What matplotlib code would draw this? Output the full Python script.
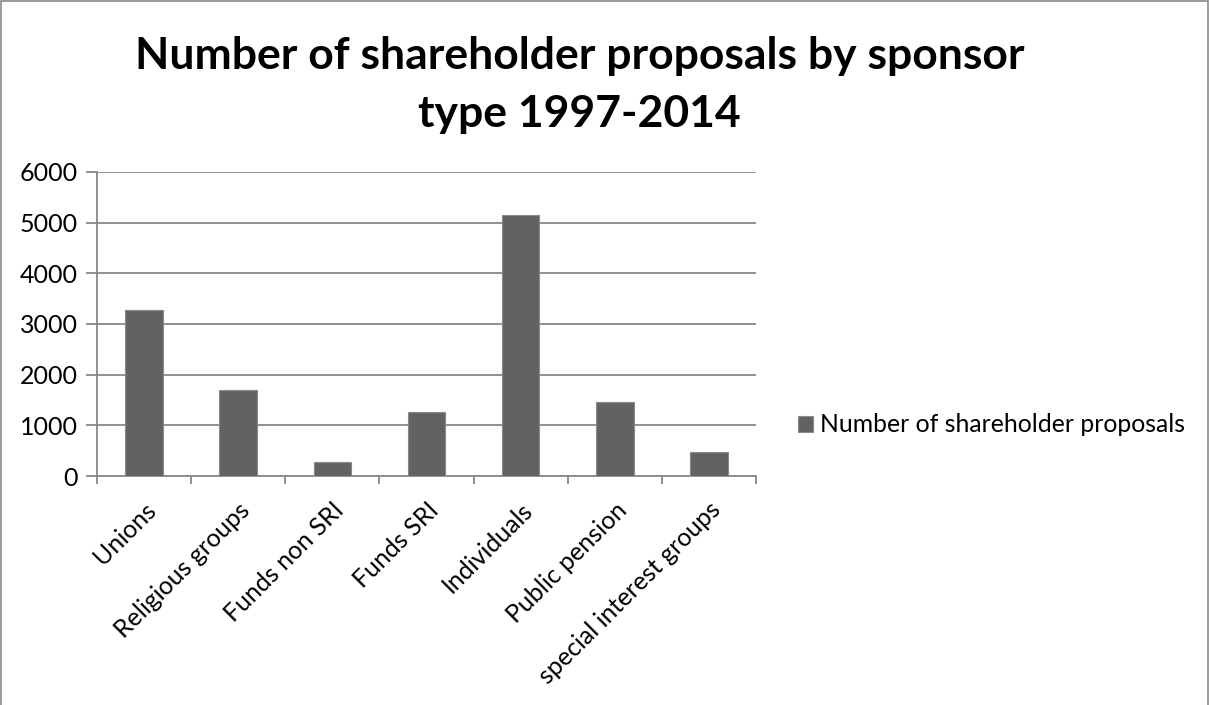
import matplotlib
matplotlib.use("Agg")
import matplotlib.pyplot as plt
from matplotlib.patches import Rectangle
import numpy as np

categories = ["Unions", "Religious groups", "Funds non SRI", "Funds SRI",
              "Individuals", "Public pension", "special interest groups"]
values = [3280, 1690, 270, 1270, 5160, 1465, 468]
series_name = "Number of shareholder proposals"
title = "Number of shareholder proposals by sponsor\ntype 1997-2014"
yticks = [0, 1000, 2000, 3000, 4000, 5000, 6000]

plt.rcParams['font.family'] = ['Lato', 'DejaVu Sans']

fig = plt.figure(figsize=(12.1, 7.05), dpi=100)
ax = fig.add_axes([97/1210, 1-476/705, (756-97)/1210, (476-172)/705])

bar_color = "#626262"
grid_color = "#888888"
fs = 18

x = np.arange(len(categories))
bars = ax.bar(x, values, width=0.4, color=bar_color, edgecolor="#8a8a8a",
              linewidth=0.8, zorder=3, label=series_name)

ax.set_xlim(-0.5, len(categories) - 0.5)
ax.set_ylim(0, 6000)
ax.set_yticks(yticks)
ax.set_yticklabels([str(v) for v in yticks], fontsize=fs)
ax.yaxis.grid(True, color=grid_color, linewidth=1.3, zorder=0)
ax.set_axisbelow(True)

ax.set_xticks(np.arange(len(categories) + 1) - 0.5, minor=False)
ax.set_xticklabels([])
ax.set_xticks(x, minor=True)
ax.set_xticklabels(categories, minor=True, rotation=45, ha="right",
                   rotation_mode="anchor", fontsize=fs)
ax.tick_params(axis="x", which="minor", length=0, pad=16)
ax.tick_params(axis="x", which="major", length=6, width=1.3, color=grid_color)
ax.tick_params(axis="y", length=8, width=1.3, color=grid_color, pad=6)

for s in ["top", "right"]:
    ax.spines[s].set_visible(False)
for s in ["left", "bottom"]:
    ax.spines[s].set_color(grid_color)
    ax.spines[s].set_linewidth(1.3)

fig.text(0.479, 1 - 85/705, title, fontsize=32, fontweight="bold",
         ha="center", va="center", linespacing=1.52)

leg = fig.legend(handles=[bars], labels=[series_name], loc="center left",
                 bbox_to_anchor=(776/1210, 1-425/705), frameon=False,
                 fontsize=17.8, handlelength=0.6, handleheight=0.6,
                 handletextpad=0.3)

fig.patches.append(Rectangle((0.001, -0.01), 0.997, 1.009, transform=fig.transFigure,
                             fill=False, edgecolor="#8a8a8a", linewidth=1.2))

fig.savefig("out.png", dpi=100)
